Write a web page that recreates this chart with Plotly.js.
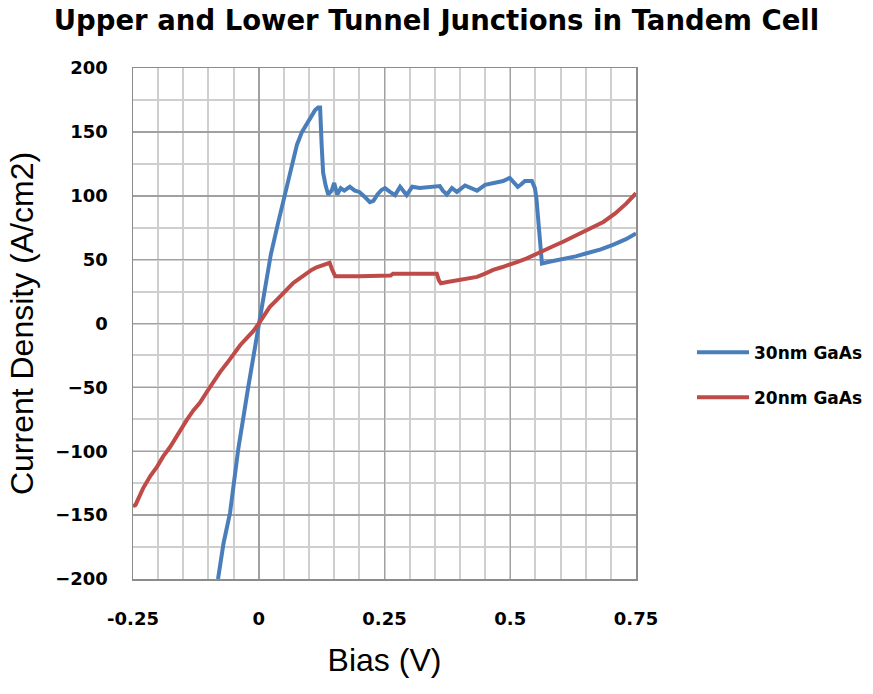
<!DOCTYPE html>
<html>
<head>
<meta charset="utf-8">
<script src="https://cdn.plot.ly/plotly-3.0.1.min.js"></script>
<style>
  html, body { margin: 0; padding: 0; background: #ffffff; }
  #chart { width: 873px; height: 694px; }
</style>
</head>
<body>
<div id="chart"></div>
<script>
// Bias (V) and current density (A/cm2) for the 30 nm GaAs junction
const bias30 = [-0.081, -0.070, -0.057, -0.041, -0.021, 0.000, 0.012, 0.024, 0.038, 0.052,
  0.066, 0.076, 0.086, 0.098, 0.106, 0.112, 0.118, 0.122, 0.125, 0.128,
  0.133, 0.138, 0.145, 0.150, 0.156, 0.163, 0.170, 0.181, 0.191, 0.200,
  0.211, 0.221, 0.228, 0.236, 0.244, 0.251, 0.261, 0.271, 0.281, 0.288,
  0.294, 0.300, 0.305, 0.320, 0.340, 0.360, 0.366, 0.374, 0.384, 0.394,
  0.410, 0.422, 0.434, 0.450, 0.462, 0.473, 0.486, 0.499, 0.507, 0.515,
  0.522, 0.529, 0.543, 0.549, 0.552, 0.563, 0.580, 0.605, 0.630, 0.652,
  0.680, 0.704, 0.730, 0.750];
const current30 = [-200, -172, -148, -99, -50, 0, 27, 54, 78, 101,
  126, 140, 150, 158, 163, 167, 169, 169, 140, 118,
  108, 101, 104, 110, 101, 106, 104, 107, 104, 103,
  99, 95, 96, 101, 104.5, 106, 103, 100.5, 107, 103,
  100.5, 104, 107, 106, 107, 107.6, 104, 101, 106, 103,
  108, 106, 104, 108.6, 109.5, 110.8, 111.5, 114, 110, 107,
  109, 111.5, 111.5, 106, 98, 47, 48.5, 50.4, 52.5, 55,
  58, 61.5, 66, 70.5];

// Bias (V) and current density (A/cm2) for the 20 nm GaAs junction
const bias20 = [-0.250, -0.245, -0.230, -0.215, -0.202, -0.190, -0.176, -0.160, -0.143, -0.130,
  -0.117, -0.104, -0.091, -0.077, -0.063, -0.050, -0.037, -0.024, -0.011, 0.000,
  0.011, 0.022, 0.032, 0.042, 0.055, 0.068, 0.080, 0.095, 0.105, 0.115,
  0.128, 0.141, 0.146, 0.152, 0.200, 0.240, 0.262, 0.267, 0.300, 0.354,
  0.358, 0.362, 0.375, 0.394, 0.414, 0.434, 0.450, 0.466, 0.483, 0.499,
  0.516, 0.533, 0.549, 0.565, 0.585, 0.605, 0.625, 0.645, 0.665, 0.685,
  0.708, 0.731, 0.750];
const current20 = [-143, -142, -129, -119, -112, -104, -96.5, -86, -75.5, -68,
  -62, -54, -45.6, -38, -31, -24, -17, -11.5, -6, 0,
  6.5, 13, 17, 21, 26.5, 31.5, 35, 39.5, 42, 44,
  46, 47.5, 42, 37, 37, 37, 37.5, 39, 39, 39,
  34, 31.5, 32.5, 34, 35, 36.5, 39, 42, 44, 45.8,
  48.5, 51, 54, 57.5, 60.5, 64, 68, 71.6, 75.5, 79.5,
  86, 94, 102];

const seriesNames = ['30nm GaAs', '20nm GaAs'];
const xTickValues = [-0.25, 0, 0.25, 0.5, 0.75];
const xTickLabels = ['-0.25', '0', '0.25', '0.5', '0.75'];
const yTickValues = [-200, -150, -100, -50, 0, 50, 100, 150, 200];

const tickFont = { family: 'DejaVu Sans', size: 18, color: '#000000', weight: 'bold' };

const traces = [
  {
    x: bias30, y: current30, name: seriesNames[0], type: 'scatter', mode: 'lines',
    line: { color: '#4a7ebb', width: 4 }, legendgroup: 'a'
  },
  {
    x: bias20, y: current20, name: seriesNames[1], type: 'scatter', mode: 'lines',
    line: { color: '#be4b48', width: 4 }, legendgroup: 'b'
  }
];

const layout = {
  width: 873, height: 694,
  margin: { l: 133, r: 237, t: 68, b: 115 },
  paper_bgcolor: '#ffffff', plot_bgcolor: '#ffffff',
  title: {
    text: 'Upper and Lower Tunnel Junctions in Tandem Cell',
    font: { family: 'DejaVu Sans', size: 27.5, color: '#000000', weight: 'bold' },
    x: 0.5, xref: 'container', xanchor: 'center',
    y: 1 - 20 / 694, yref: 'container', yanchor: 'middle'
  },
  xaxis: {
    range: [-0.25, 0.75], tickmode: 'array', tickvals: xTickValues, ticktext: xTickLabels,
    ticks: 'outside', ticklen: 23, tickcolor: 'rgba(0,0,0,0)',
    tickfont: tickFont,
    showgrid: true, gridcolor: '#a0a0a0', gridwidth: 1.5,
    minor: { dtick: 0.05, showgrid: true, gridcolor: '#cfcfcf', gridwidth: 2 },
    zeroline: false,
    showline: true, linecolor: '#8c8c8c', linewidth: 1.5, mirror: true,
    title: { text: 'Bias (V)', font: { family: 'Liberation Sans', size: 32, color: '#000000' }, standoff: 20 },
    fixedrange: true
  },
  yaxis: {
    range: [-200, 200], tickmode: 'array', tickvals: yTickValues,
    ticks: 'outside', ticklen: 20, tickcolor: 'rgba(0,0,0,0)',
    tickfont: tickFont,
    showgrid: true, gridcolor: '#a0a0a0', gridwidth: 1.5,
    minor: { dtick: 25, showgrid: true, gridcolor: '#cfcfcf', gridwidth: 2 },
    zeroline: false,
    showline: true, linecolor: '#8c8c8c', linewidth: 1.5, mirror: true,
    title: { text: 'Current Density (A/cm2)', font: { family: 'Liberation Sans', size: 32, color: '#000000' }, standoff: 12 },
    fixedrange: true
  },
  showlegend: true,
  legend: {
    xref: 'container', x: 692 / 873, xanchor: 'left',
    y: 0.399, yanchor: 'middle',
    font: { family: 'DejaVu Sans', size: 17, color: '#000000', weight: 'bold' },
    traceorder: 'grouped', tracegroupgap: 20, itemwidth: 52,
    bgcolor: 'rgba(0,0,0,0)'
  }
};

Plotly.newPlot('chart', traces, layout, { displayModeBar: false, staticPlot: true });
</script>
</body>
</html>
